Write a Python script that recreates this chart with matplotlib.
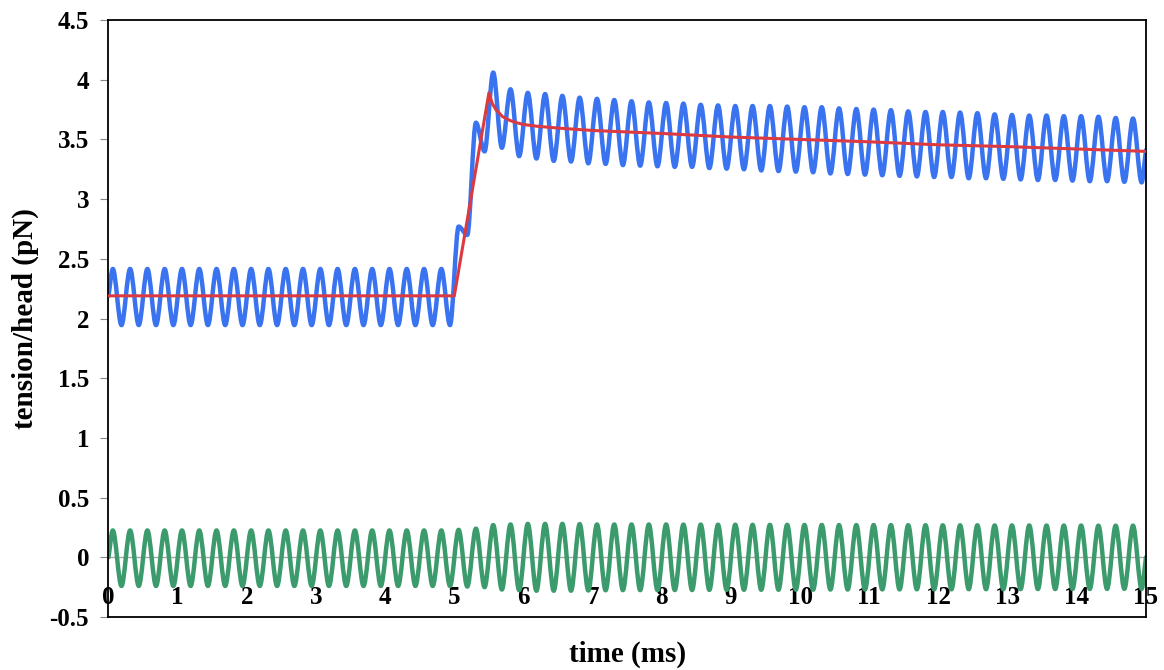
import numpy as np
import matplotlib
matplotlib.use("Agg")
import matplotlib.pyplot as plt
from matplotlib.path import Path
from matplotlib.patches import PathPatch

# --------- data --------- #

# extrema of the 4 kHz oscillation: one peak / one trough every 0.25 ms
peak_t = np.arange(60) * 0.25 + 0.0625
trough_t = peak_t + 0.125

blue_peaks = [2.415] * 20 + [
    2.77, 3.64, 4.06, 3.92, 3.89, 3.88, 3.865, 3.85, 3.84, 3.83,
    3.82, 3.81, 3.805, 3.80, 3.79, 3.785, 3.78, 3.78, 3.78, 3.775,
    3.77, 3.77, 3.76, 3.755, 3.75, 3.745, 3.735, 3.73, 3.73, 3.725,
    3.72, 3.71, 3.705, 3.70, 3.70, 3.695, 3.695, 3.69, 3.68, 3.675,
]
blue_troughs = [1.945] * 20 + [
    2.70, 3.40, 3.43, 3.36, 3.34, 3.32, 3.315, 3.30, 3.295, 3.285,
    3.28, 3.275, 3.27, 3.27, 3.26, 3.255, 3.25, 3.24, 3.235, 3.23,
    3.225, 3.215, 3.21, 3.205, 3.20, 3.195, 3.19, 3.185, 3.185, 3.175,
    3.175, 3.17, 3.165, 3.16, 3.16, 3.155, 3.15, 3.15, 3.145, 3.14,
]
blue_start, blue_end = 2.19, 3.41

green_peaks = [0.225] * 20 + [
    0.23, 0.24, 0.27, 0.275, 0.28, 0.28, 0.28, 0.278, 0.275, 0.275,
    0.275, 0.275, 0.275, 0.274, 0.274, 0.273, 0.273, 0.272, 0.272, 0.272,
    0.271, 0.271, 0.27, 0.27, 0.27, 0.27, 0.269, 0.269, 0.268, 0.268,
    0.268, 0.267, 0.267, 0.267, 0.266, 0.266, 0.266, 0.265, 0.265, 0.265,
]
green_troughs = [-0.24] * 20 + [
    -0.245, -0.25, -0.27, -0.275, -0.28, -0.28, -0.28, -0.278, -0.276, -0.275,
    -0.275, -0.275, -0.274, -0.274, -0.273, -0.273, -0.272, -0.272, -0.272, -0.271,
    -0.271, -0.27, -0.27, -0.27, -0.269, -0.269, -0.268, -0.268, -0.268, -0.267,
    -0.267, -0.267, -0.266, -0.266, -0.266, -0.265, -0.265, -0.265, -0.264, -0.264,
]
green_start, green_end = 0.0, 0.0

# mean tension (red)
red_t = [0, 5.0, 5.5, 5.55, 5.6, 5.65, 5.7, 5.8, 5.9, 6.0, 6.2, 6.5,
         7.0, 8.0, 9.0, 10.0, 11.0, 12.0, 13.0, 14.0, 15.0]
red_y = [2.19, 2.19, 3.89, 3.80, 3.75, 3.72, 3.69, 3.66, 3.64, 3.625, 3.61, 3.595,
         3.575, 3.55, 3.52, 3.50, 3.48, 3.455, 3.44, 3.42, 3.40]

x_ticks = list(range(16))
y_ticks = [-0.5, 0, 0.5, 1, 1.5, 2, 2.5, 3, 3.5, 4, 4.5]
y_ticklabels = ["-0.5", "0", "0.5", "1", "1.5", "2", "2.5", "3", "3.5", "4", "4.5"]

BLUE = "#3a73f0"
RED = "#dc3a40"
GREEN = "#3c9b6c"


def series(t0, v0, peaks, troughs, t1, v1):
    """Interleave start point, peaks/troughs and end point in time order."""
    t = [t0]
    v = [v0]
    for tp, p, tt, tr in zip(peak_t, peaks, trough_t, troughs):
        t += [tp, tt]
        v += [p, tr]
    t.append(t1)
    v.append(v1)
    return np.array(t), np.array(v)


def smooth_path(t, v):
    """Excel-like smoothed line through the points (cubic Bezier, flat at extrema)."""
    n = len(t)
    verts = [(t[0], v[0])]
    codes = [Path.MOVETO]
    for i in range(n - 1):
        dt = t[i + 1] - t[i]
        if i == 0:
            c1 = (t[0] + dt / 3, v[0] + (v[1] - v[0]) / 3)
        else:
            c1 = (t[i] + dt / 3, v[i])
        if i + 1 == n - 1:
            c2 = (t[i + 1] - dt / 3, v[i + 1] - (v[i + 1] - v[i]) / 3)
        else:
            c2 = (t[i + 1] - dt / 3, v[i + 1])
        verts += [c1, c2, (t[i + 1], v[i + 1])]
        codes += [Path.CURVE4] * 3
    return Path(verts, codes)


plt.rcParams["font.family"] = ["Liberation Serif", "DejaVu Serif"]
plt.rcParams["font.weight"] = "bold"

fig = plt.figure(figsize=(11.64, 6.70), dpi=100)
ax = fig.add_axes([0.0932, 0.0791, 0.8913, 0.8910])

ax.axhline(0, color="#a8a8a8", lw=1.0, zorder=1)

bt, bv = series(0, blue_start, blue_peaks, blue_troughs, 15, blue_end)
gt, gv = series(0, green_start, green_peaks, green_troughs, 15, green_end)

ax.add_patch(PathPatch(smooth_path(bt, bv), fill=False, edgecolor=BLUE,
                       lw=3.2, capstyle="round", joinstyle="round", zorder=2))
ax.add_patch(PathPatch(smooth_path(gt, gv), fill=False, edgecolor=GREEN,
                       lw=3.2, capstyle="round", joinstyle="round", zorder=2))
ax.plot(red_t, red_y, color=RED, lw=2.2, zorder=3, solid_joinstyle="round")

ax.set_xlim(0, 15)
ax.set_ylim(-0.5, 4.5)

for s in ax.spines.values():
    s.set_color("black")
    s.set_linewidth(1.3)

ax.set_yticks(y_ticks)
ax.set_yticklabels(y_ticklabels)
ax.tick_params(axis="y", direction="out", length=6, width=0.8, color="#888888",
               pad=8, labelsize=18)
ax.set_xticks([])

# x tick labels sit just under the y=0 line
sec = ax.secondary_xaxis(0.1)
sec.set_xticks(x_ticks)
sec.set_xticklabels([str(x) for x in x_ticks])
sec.tick_params(axis="x", length=0, pad=21, labelsize=18)
sec.spines["bottom"].set_visible(False)

ax.set_xlabel("time (ms)", fontsize=21, fontweight="bold")
ax.set_ylabel("tension/head (pN)", fontsize=21, fontweight="bold")
ax.xaxis.set_label_coords(0.5, -0.040)
ax.yaxis.set_label_coords(-0.067, 0.5)

fig.savefig("out.png", dpi=100)
